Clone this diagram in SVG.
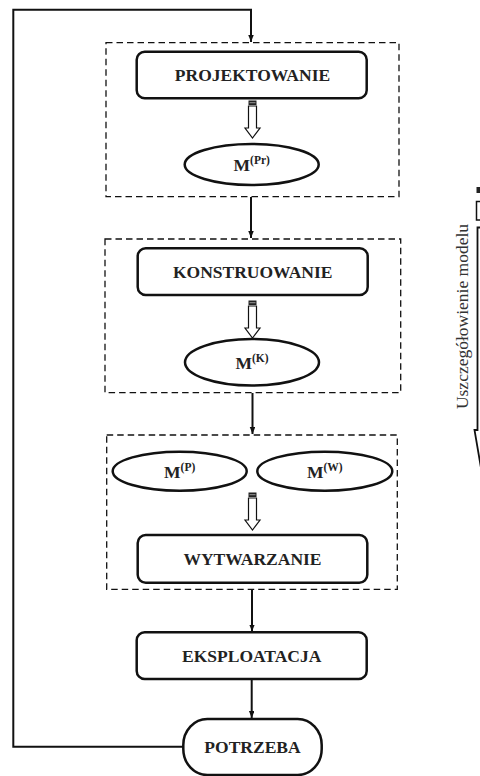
<svg xmlns="http://www.w3.org/2000/svg" xmlns:xlink="http://www.w3.org/1999/xlink" width="480" height="776" viewBox="0 0 480 776">
<style>
.dash{fill:none;stroke:#111;stroke-width:1.3;stroke-dasharray:6.5 4}
.box{fill:#fff;stroke:#111;stroke-width:2.5}
.ell{fill:#fff;stroke:#111;stroke-width:2.5}
.lbl{font-family:"Liberation Serif","Times New Roman",serif;font-weight:bold;font-size:17.5px;fill:#222;text-anchor:middle}
.sup{font-size:11.5px}
.con{fill:none;stroke:#111;stroke-width:2}
.side{font-family:"Liberation Serif","Times New Roman",serif;font-size:17.5px;fill:#333;text-anchor:middle}
</style>
<defs>
<marker id="ah" markerUnits="userSpaceOnUse" markerWidth="8" markerHeight="6" refX="7" refY="2.75" orient="auto">
<path d="M0,0 L7,2.75 L0,5.5 Z" fill="#111"/>
</marker>
<g id="hollow">
<rect x="-4" y="0.5" width="8" height="4.5" fill="#222"/>
<rect x="-3" y="2.2" width="6" height="1" fill="#999"/>
<path d="M-4,6 L-4,28 L-7.5,28 L0,38 L7.5,28 L4,28 L4,6 Z" fill="#fff" stroke="#111" stroke-width="1.2"/>
</g>
</defs>

<g id="connectors">
<path class="con" d="M183.3,746.7 L13.3,746.7 L13.3,9.7 L251,9.7 L251,42" marker-end="url(#ah)"/>
<path class="con" d="M251,197 L251,238" marker-end="url(#ah)"/>
<path class="con" d="M252.5,393 L252.5,434" marker-end="url(#ah)"/>
<path class="con" d="M252,589.5 L252,631.5" marker-end="url(#ah)"/>
<path class="con" d="M251.7,679 L251.7,718" marker-end="url(#ah)"/>
<use xlink:href="#hollow" x="252.5" y="100"/>
<use xlink:href="#hollow" x="252.5" y="300"/>
<use xlink:href="#hollow" x="252.5" y="492"/>
</g>

<g id="group-projektowanie">
<rect class="dash" x="106" y="42.7" width="293" height="154"/>
</g>
<g id="group-konstruowanie">
<rect class="dash" x="105" y="239" width="295.7" height="153.7"/>
</g>
<g id="group-wytwarzanie">
<rect class="dash" x="106.7" y="435" width="290.6" height="154.3"/>
</g>

<g id="projektowanie">
<rect class="box" x="136.7" y="51.7" width="230" height="46.6" rx="8"/>
<text class="lbl" x="252.5" y="81">PROJEKTOWANIE</text>
</g>
<g id="m-pr">
<ellipse class="ell" cx="251.7" cy="164.5" rx="67" ry="20.5"/>
<text class="lbl" x="251.7" y="171">M<tspan class="sup" dy="-7.5">(Pr)</tspan></text>
</g>

<g id="konstruowanie">
<rect class="box" x="137.7" y="248.3" width="230" height="46.7" rx="8"/>
<text class="lbl" x="252.7" y="278">KONSTRUOWANIE</text>
</g>
<g id="m-k">
<ellipse class="ell" cx="252" cy="362.3" rx="67" ry="23.3"/>
<text class="lbl" x="252" y="369">M<tspan class="sup" dy="-7.5">(K)</tspan></text>
</g>

<g id="m-p">
<ellipse class="ell" cx="179.7" cy="471.2" rx="67" ry="19.5"/>
<text class="lbl" x="179.7" y="478">M<tspan class="sup" dy="-7.5">(P)</tspan></text>
</g>
<g id="m-w">
<ellipse class="ell" cx="324.8" cy="471.2" rx="67.5" ry="19.5"/>
<text class="lbl" x="324.8" y="478">M<tspan class="sup" dy="-7.5">(W)</tspan></text>
</g>
<g id="wytwarzanie">
<rect class="box" x="137.7" y="535" width="229.6" height="47.7" rx="8"/>
<text class="lbl" x="252.5" y="565">WYTWARZANIE</text>
</g>

<g id="eksploatacja">
<rect class="box" x="136.7" y="632.3" width="230" height="46.7" rx="8"/>
<text class="lbl" x="251.7" y="661.7">EKSPLOATACJA</text>
</g>

<g id="potrzeba">
<rect class="box" x="183.3" y="719" width="138.4" height="56" rx="24" ry="26"/>
<text class="lbl" x="252.5" y="752.7">POTRZEBA</text>
</g>

<g id="uszczegolowienie">
<rect x="476.5" y="187" width="10" height="6" fill="#222"/>
<rect x="476.5" y="201.5" width="10" height="18.5" fill="#fff" stroke="#111" stroke-width="1.5"/>
<path d="M490,227.5 L477.5,227.5 L477.5,430 L474.5,430 L481,468" fill="#fff" stroke="#111" stroke-width="1.8"/>
<text class="side" transform="translate(468,316.5) rotate(-90)">Uszczegółowienie modelu</text>
</g>
</svg>
